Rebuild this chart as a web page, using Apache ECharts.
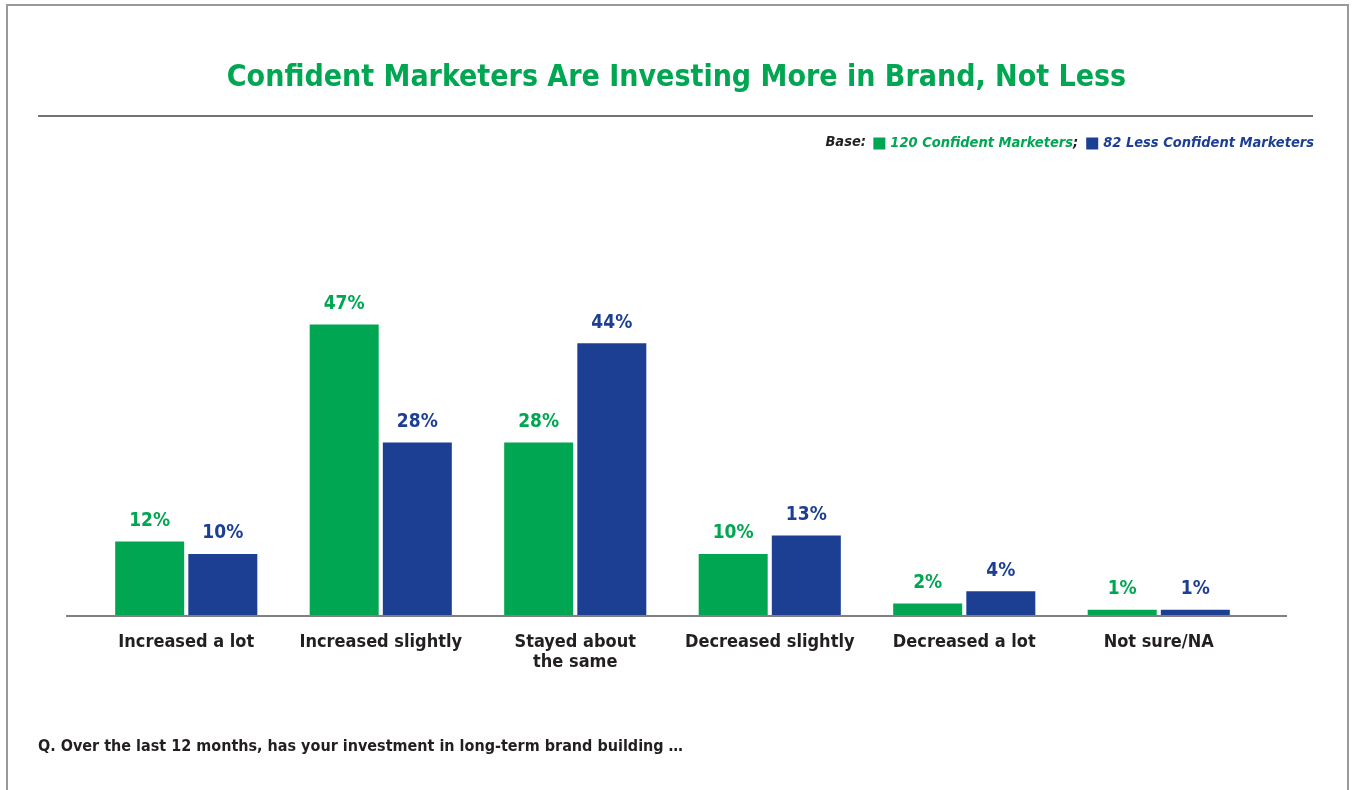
<!DOCTYPE html>
<html>
<head>
<meta charset="utf-8">
<script src="https://cdn.jsdelivr.net/npm/echarts@6/dist/echarts.min.js"></script>
<style>
  html, body { margin: 0; padding: 0; background: #fff; }
  #chart { width: 1353px; height: 790px; }
</style>
</head>
<body>
<div id="chart"></div>
<script>
// Survey answers and the share of each group giving them
const categories = ['Increased a lot', 'Increased slightly', 'Stayed about\nthe same', 'Decreased slightly', 'Decreased a lot', 'Not sure/NA'];
const confident = [12, 47, 28, 10, 2, 1];
const lessConfident = [10, 28, 44, 13, 4, 1];
const seriesNames = ['120 Confident Marketers', '82 Less Confident Marketers'];

const GREEN = '#00a651';
const BLUE = '#1c3f94';
const DARK = '#231f20';
const FONT = "'Liberation Sans Narrow', 'DejaVu Sans Condensed', 'Roboto Condensed', 'Liberation Sans', sans-serif";

const grid = { left: 89, right: 97, top: 244, bottom: 174 };
const H = 790;

const chart = echarts.init(document.getElementById('chart'), null, { renderer: 'canvas' });

function barSeries(name, data, color) {
  return {
    name: name,
    type: 'bar',
    data: data,
    barWidth: 69,
    barGap: '6%',
    itemStyle: { color: color },
    label: {
      show: true,
      position: 'top',
      distance: 11,
      formatter: '{c}%',
      color: color,
      fontFamily: FONT,
      fontWeight: 'bold',
      fontSize: 19
    }
  };
}

chart.setOption({
  backgroundColor: '#fff',
  animation: false,
  title: {
    text: 'Confident Marketers Are Investing More in Brand, Not Less',
    left: 'center',
    top: 58,
    textStyle: { color: GREEN, fontFamily: FONT, fontWeight: 'bold', fontSize: 30 }
  },
  legend: {
    right: 34,
    top: 131,
    itemWidth: 12,
    itemHeight: 12,
    itemGap: 8,
    icon: 'rect',
    selectedMode: false,
    data: [
      { name: seriesNames[0], textStyle: { color: GREEN } },
      { name: seriesNames[1], textStyle: { color: BLUE } }
    ],
    formatter: function (name) {
      return name === seriesNames[0] ? name + '{semi|;}' : name;
    },
    textStyle: {
      fontFamily: FONT,
      fontWeight: 'bold',
      fontStyle: 'italic',
      fontSize: 14.5,
      rich: {
        semi: { color: DARK, fontFamily: FONT, fontWeight: 'bold', fontStyle: 'italic', fontSize: 14.5 }
      }
    }
  },
  grid: grid,
  xAxis: {
    type: 'category',
    data: categories,
    axisLine: { show: false },
    axisTick: { show: false },
    axisLabel: {
      color: DARK,
      fontFamily: FONT,
      fontWeight: 'bold',
      fontSize: 18,
      lineHeight: 20,
      margin: 16,
      interval: 0
    }
  },
  yAxis: {
    type: 'value',
    min: 0,
    max: 60,
    show: false,
    splitLine: { show: false }
  },
  series: [
    barSeries(seriesNames[0], confident, GREEN),
    barSeries(seriesNames[1], lessConfident, BLUE)
  ],
  graphic: [
    // outer frame
    { type: 'rect', shape: { x: 7, y: 5, width: 1341, height: 800 }, style: { fill: null, stroke: '#9a9a9a', lineWidth: 2 }, silent: true },
    // rule under the title
    { type: 'line', shape: { x1: 38, y1: 116, x2: 1313, y2: 116 }, style: { stroke: '#444', lineWidth: 1.5 }, silent: true },
    // baseline of the bars
    { type: 'line', shape: { x1: 66, y1: H - grid.bottom, x2: 1287, y2: H - grid.bottom }, style: { stroke: '#808080', lineWidth: 2 }, silent: true, z: 10 },
    // base note before the legend
    { type: 'text', x: 0, y: 0, style: { x: 866, y: 142, text: 'Base:', fill: DARK, font: "italic bold 14.5px " + FONT, textAlign: 'right', textVerticalAlign: 'middle' }, silent: true },
    // question wording
    { type: 'text', left: 38, top: 739, style: { text: 'Q. Over the last 12 months, has your investment in long-term brand building \u2026', fill: DARK, font: "bold 16px " + FONT }, silent: true }
  ]
});
</script>
</body>
</html>
